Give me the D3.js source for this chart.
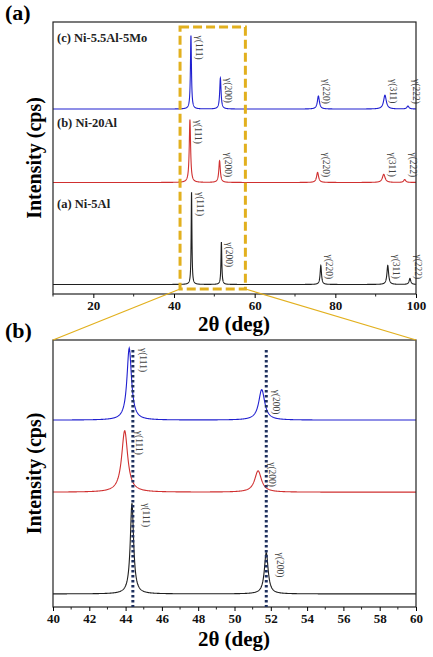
<!DOCTYPE html>
<html><head><meta charset="utf-8">
<script src="https://cdn.jsdelivr.net/npm/d3@7"></script>
<style>body{margin:0;background:#fff}</style>
</head><body>
<script>
// samples, top to bottom
var samples = ["(c) Ni-5.5Al-5Mo", "(b) Ni-20Al", "(a) Ni-5Al"];
var colors = ["#2020d0", "#d03030", "#202020"];
var hkl = ["γ(111)", "γ(200)", "γ(220)", "γ(311)", "γ(222)"];
// peak positions (deg), heights (a.u.), widths (deg FWHM)
var peakPos = [[44.2, 51.5, 75.8, 92.3, 98.0], [43.95, 51.3, 75.6, 92.0, 97.2], [44.35, 51.75, 76.4, 93.0, 98.5]];
var peakH = [[27, 11.4, 4.8, 5.1, 1.1], [23, 8.0, 3.7, 3.0, 1.1], [34, 15.5, 7.0, 7.0, 2.2]];
var peakW = [[0.3, 0.4, 0.6, 0.8, 0.6], [0.4, 0.45, 0.6, 0.8, 0.6], [0.22, 0.25, 0.4, 0.5, 0.5]];
var offsetA = [68, 41, 3.5];
var offsetB = [70, 43, 4.9];
var refLines = [44.4, 51.75];
var ticksA = [20, 40, 60, 80, 100];
var ticksB = [40, 42, 44, 46, 48, 50, 52, 54, 56, 58, 60];

var svg = d3.select("body").append("svg").attr("width", 433).attr("height", 657);
var serif = "Liberation Serif, Times New Roman, serif";

function profile(i, x0, x1) {
  var pts = [];
  for (var x = x0; x <= x1 + 1e-9; x += 0.02) {
    var y = 0;
    peakPos[i].forEach(function(p, k) {
      var g = peakW[i][k] / 2;
      y += peakH[i][k] * g * g / ((x - p) * (x - p) + g * g);
    });
    pts.push([x, y]);
  }
  return pts;
}

function panel(top, bottom, domain, ticks, minorStep, offsets, letter, labelsUpTo, labelDx, titleDy) {
  var x = d3.scaleLinear().domain(domain).range([53, 416]);
  var y = d3.scaleLinear().domain([0, 100]).range([bottom, top]);
  var g = svg.append("g");
  samples.forEach(function(s, i) {
    var line = d3.line().x(function(d) { return x(d[0]); }).y(function(d) { return y(d[1] + offsets[i]); });
    g.append("path").datum(profile(i, domain[0], domain[1])).attr("d", line)
      .attr("fill", "none").attr("stroke", colors[i]).attr("stroke-width", 1.1);
    peakPos[i].forEach(function(p, k) {
      if (k >= labelsUpTo) return;
      var base = y(offsets[i]);
      var ytop = Math.min(y(peakH[i][k] + offsets[i]), base - 30);
      var lx = x(p) + labelDx;
      g.append("text").attr("transform", "translate(" + lx + "," + ytop + ") rotate(90)")
        .attr("font-family", serif).attr("font-size", 9.5).attr("fill", "#444").text(hkl[k]);
    });
  });
  g.append("rect").attr("x", 53).attr("y", top).attr("width", 363).attr("height", bottom - top)
    .attr("fill", "none").attr("stroke", "#222").attr("stroke-width", 1.2);
  var ax = g.append("g").attr("transform", "translate(0," + bottom + ")")
    .call(d3.axisBottom(x).tickValues(ticks).tickSize(4).tickFormat(d3.format("d")));
  ax.select(".domain").remove();
  ax.selectAll("text").attr("font-family", serif).attr("font-weight", "bold").attr("font-size", 13).attr("fill", "#111");
  var minor = d3.range(domain[0], domain[1] + 1e-9, minorStep).filter(function(v) { return ticks.indexOf(v) < 0; });
  g.selectAll(".mn").data(minor).enter().append("line")
    .attr("x1", function(d) { return x(d); }).attr("x2", function(d) { return x(d); })
    .attr("y1", bottom).attr("y2", bottom + 2.5).attr("stroke", "#222");
  g.append("text").attr("x", 234).attr("y", bottom + titleDy).attr("text-anchor", "middle")
    .attr("font-family", serif).attr("font-weight", "bold").attr("font-size", 21).text("2θ (deg)");
  g.append("text").attr("transform", "translate(41," + (top + bottom) / 2 + ") rotate(-90)").attr("text-anchor", "middle")
    .attr("font-family", serif).attr("font-weight", "bold").attr("font-size", 20).text("Intensity (cps)");
  g.append("text").attr("x", 5).attr("y", top - 2).attr("font-family", serif).attr("font-weight", "bold")
    .attr("font-size", 22).text(letter);
  return { x: x, y: y, g: g };
}

var a = panel(22, 294, [10, 100], ticksA, 10, offsetA, "(a)", 5, 5, 37);
var b = panel(340, 607, [40, 60], ticksB, 1, offsetB, "(b)", 2, 11, 39);

// sample names in (a)
var nameY = [42, 127, 208];
samples.forEach(function(s, i) {
  a.g.append("text").attr("x", 57).attr("y", nameY[i]).attr("font-family", serif).attr("font-weight", "bold")
    .attr("font-size", 12.5).attr("fill", "#222").text(s);
});

// dotted reference lines in (b)
b.g.selectAll(".ref").data(refLines).enter().append("line")
  .attr("x1", function(d) { return b.x(d); }).attr("x2", function(d) { return b.x(d); })
  .attr("y1", 350).attr("y2", 607).attr("stroke", "#1d2f5e").attr("stroke-width", 3).attr("stroke-dasharray", "2.5,2.5");

// zoom box and connector
var gold = "#e2b01e";
var bx0 = a.x(41.5), bx1 = a.x(57.7);
svg.append("rect").attr("x", bx0).attr("y", 27).attr("width", bx1 - bx0).attr("height", 262)
  .attr("fill", "none").attr("stroke", gold).attr("stroke-width", 3).attr("stroke-dasharray", "9,4");
svg.append("line").attr("x1", bx0).attr("y1", 289).attr("x2", 53).attr("y2", 340).attr("stroke", gold).attr("stroke-width", 1.3);
svg.append("line").attr("x1", bx1).attr("y1", 289).attr("x2", 416).attr("y2", 340).attr("stroke", gold).attr("stroke-width", 1.3);
</script>
</body></html>
